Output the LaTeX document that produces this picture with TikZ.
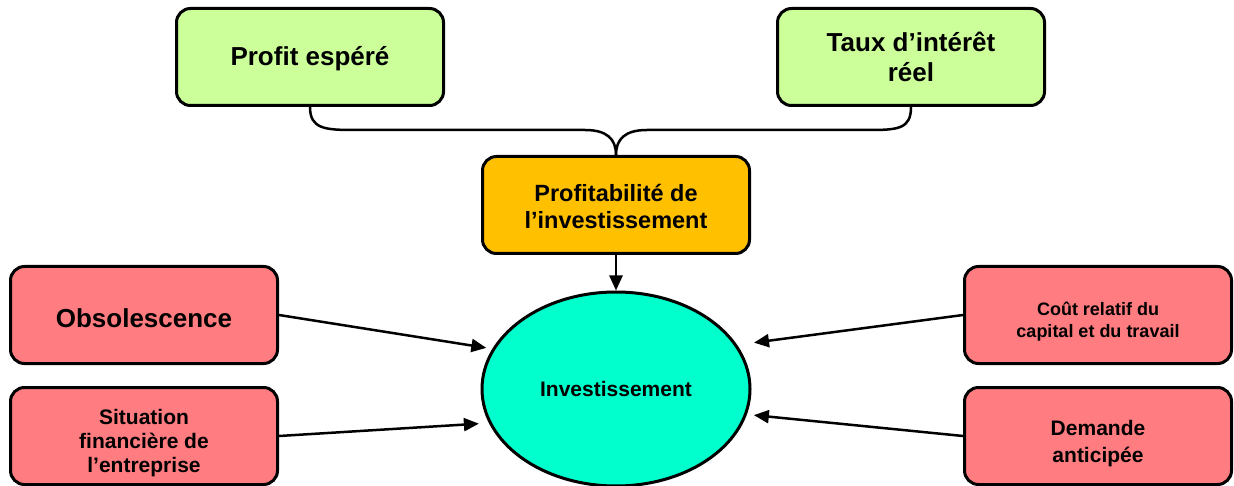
\documentclass[tikz,border=0pt]{standalone}
\usepackage{fontspec}
\setmainfont{Liberation Sans}
\usepackage{tikz}
\usetikzlibrary{shapes.geometric,arrows.meta}
\definecolor{vertclair}{HTML}{CCFF99}
\definecolor{jaunefonce}{HTML}{FFC000}
\definecolor{rose}{HTML}{FF7C80}
\definecolor{turquoise}{HTML}{00FFCC}
\newcommand\taille[2]{\fontsize{#1}{#2}\selectfont}
\newcommand\haut[1]{\rule{0pt}{#1}}
\tikzstyle{cadre} = [draw=black, line width=3pt, rectangle, rounded corners=14pt, minimum width=267pt, minimum height=97pt, inner sep=2pt, align=center]
\tikzstyle{fleche} = [line width=2.5pt, -{Triangle[length=15pt,width=13pt]}]
\tikzstyle{accolade} = [line width=2.5pt]

\begin{document}
\begin{tikzpicture}[x=1pt,y=-1pt]
	\useasboundingbox (0,0) rectangle (1234,486);
	\node[cadre, fill=vertclair, font=\bfseries\taille{26}{30}](profit) at (310,57) {\haut{23pt}Profit espéré};
	\node[cadre, fill=vertclair, font=\bfseries\taille{26}{30}](taux) at (911,57) {Taux d’intérêt\\réel};
	\node[cadre, fill=jaunefonce, font=\bfseries\taille{23.5}{27.5}](rentab) at (616,205) {\haut{20pt}Profitabilité de\\l’investissement};
	\node[draw, ellipse, line width=3pt, fill=turquoise, minimum width=268pt, minimum height=194pt, inner sep=0pt, font=\bfseries\taille{21}{24}](invest) at (616,389) {Investissement};
	\node[cadre, fill=rose, font=\bfseries\taille{26}{30}](obso) at (144,315) {\haut{25pt}Obsolescence};
	\node[cadre, fill=rose, font=\bfseries\taille{21}{24}](situation) at (144,436) {\haut{29pt}Situation\\financière de\\l’entreprise};
	\node[cadre, fill=rose, font=\bfseries\taille{18}{22.5}](cout) at (1098,315) {\haut{27pt}Coût relatif du\\capital et du travail};
	\node[cadre, fill=rose, font=\bfseries\taille{21}{27}](demande) at (1098,436) {\haut{31pt}Demande\\anticipée};
	\coordinate (g1) at (355,130);
	\coordinate (g2) at (585,130);
	\coordinate (d1) at (868,130);
	\coordinate (d2) at (647,130);
	\draw[accolade] (profit.south) .. controls +(0,22) and +(-30,0) .. (g1) -- (g2) .. controls +(22,0) and +(0,-16) .. (rentab.north);
	\draw[accolade] (taux.south) .. controls +(0,22) and +(30,0) .. (d1) -- (d2) .. controls +(-22,0) and +(0,-16) .. (rentab.north);
	\draw[fleche] (rentab) -- (invest);
	\draw[fleche, shorten >=6pt] (obso.east) -- (invest.162);
	\draw[fleche, shorten >=10pt] (situation.east) -- (invest.195);
	\draw[fleche, shorten >=17pt] (cout.west) -- (invest.20);
	\draw[fleche, shorten >=7pt] (demande.west) -- (invest.349);
\end{tikzpicture}
\end{document}
